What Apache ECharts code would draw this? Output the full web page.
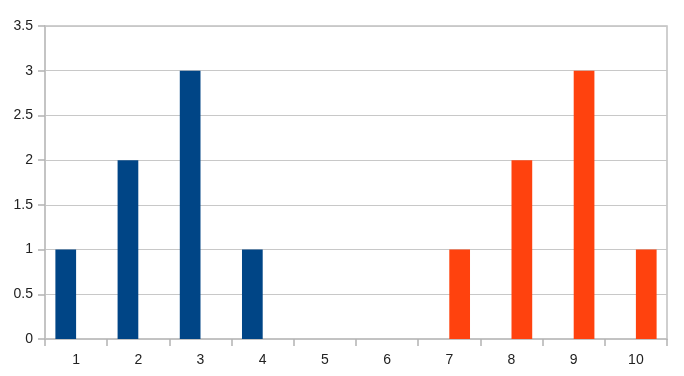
<!DOCTYPE html>
<html><head><meta charset="utf-8">
<script src="https://cdn.jsdelivr.net/npm/echarts@6/dist/echarts.min.js"></script>
<style>html,body{margin:0;padding:0;background:#fff}#c{width:684px;height:376px}</style>
</head><body><div id="c"></div>
<script>
var categories = ['1','2','3','4','5','6','7','8','9','10'];
var seriesA = [1, 2, 3, 1, 0, 0, 0, 0, 0, 0];
var seriesB = [0, 0, 0, 0, 0, 0, 1, 2, 3, 1];
var yMin = 0, yMax = 3.5, yStep = 0.5;

var chart = echarts.init(document.getElementById('c'), null, {renderer: 'canvas'});
var font = {fontFamily: 'Liberation Sans, Arial, sans-serif', fontSize: 14, color: '#222'};
chart.setOption({
  animation: false,
  grid: {left: 45, right: 17, top: 26, bottom: 37, show: true, borderColor: '#c0c0c0', borderWidth: 1.5, backgroundColor: 'transparent'},
  xAxis: {
    type: 'category', data: categories, boundaryGap: true,
    axisLine: {lineStyle: {color: '#c0c0c0', width: 1.5}},
    axisTick: {show: true, length: 7, alignWithLabel: false, lineStyle: {color: '#b3b3b3', width: 1.5}},
    axisLabel: Object.assign({margin: 14, interval: 0}, font),
    splitLine: {show: false}
  },
  yAxis: {
    type: 'value', min: yMin, max: yMax, interval: yStep,
    axisLine: {show: true, lineStyle: {color: '#c0c0c0', width: 1.5}},
    axisTick: {show: true, length: 7, lineStyle: {color: '#b3b3b3', width: 1.5}},
    axisLabel: Object.assign({margin: 12}, font),
    splitLine: {lineStyle: {color: '#c8c8c8', width: 1.2}}
  },
  series: [
    {type: 'bar', data: seriesA, itemStyle: {color: '#004586'}, barGap: '0%', barCategoryGap: '33.4%'},
    {type: 'bar', data: seriesB, itemStyle: {color: '#ff420e'}, barGap: '0%', barCategoryGap: '33.4%'}
  ]
});
</script></body></html>
